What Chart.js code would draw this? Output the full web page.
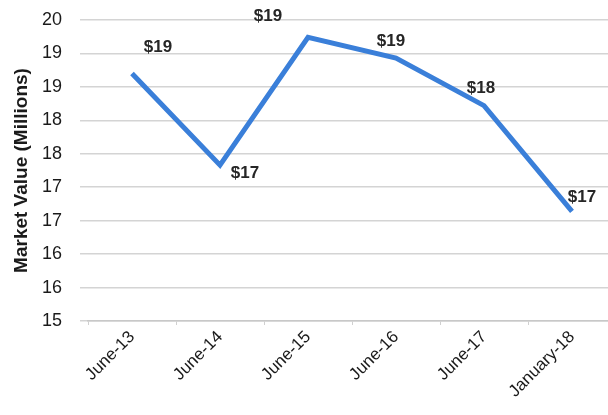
<!DOCTYPE html>
<html>
<head>
<meta charset="utf-8">
<script src="https://cdn.jsdelivr.net/npm/chart.js@4/dist/chart.umd.min.js"></script>
<style>
    html, body { margin: 0; padding: 0; background: #fff; overflow: hidden; }
    #wrap { position: relative; width: 616px; height: 415px; }
</style>
</head>
<body>
<div id="wrap"><canvas id="valueChart"></canvas></div>
<script>
// chart data
const categories = ["June-13", "June-14", "June-15", "June-16", "June-17", "January-18"];
const marketValues = [18.70, 17.33, 19.24, 18.93, 18.22, 16.64];
const yTickValues = [15, 15.5, 16, 16.5, 17, 17.5, 18, 18.5, 19, 19.5];
const yTickLabels = ["15", "16", "16", "17", "17", "18", "18", "19", "19", "20"];

// where each value label sits relative to its point (px)
const labelOffsets = [[26, -26], [25, 8], [-40, -21], [-5, -17], [-3, -17], [10, -14]];

const valueLabels = {
    id: "valueLabels",
    afterDatasetsDraw(chart) {
        const ctx = chart.ctx;
        const meta = chart.getDatasetMeta(0);
        ctx.save();
        ctx.font = "bold 17px 'Liberation Sans', Arial, sans-serif";
        ctx.fillStyle = "#262626";
        ctx.textAlign = "center";
        ctx.textBaseline = "middle";
        meta.data.forEach((pt, i) => {
            const v = chart.data.datasets[0].data[i];
            const off = labelOffsets[i];
            ctx.fillText("$" + Math.round(v), pt.x + off[0], pt.y + off[1]);
        });
        ctx.restore();
    }
};

document.addEventListener("DOMContentLoaded", function () {
    const ctx = document.getElementById("valueChart").getContext("2d");

    new Chart(ctx, {
        type: "line",
        data: {
            labels: categories,
            datasets: [{
                data: marketValues,
                borderColor: "#3a7fd9",
                borderWidth: 5,
                pointRadius: 0,
                tension: 0,
                fill: false
            }]
        },
        options: {
            responsive: true,
            maintainAspectRatio: false,
            animation: false,
            layout: { padding: { top: 20, right: 0, bottom: 0, left: 0 } },
            plugins: {
                legend: { display: false },
                tooltip: { enabled: false }
            },
            scales: {
                x: {
                    offset: true,
                    grid: {
                        offset: true,
                        drawOnChartArea: false,
                        tickLength: 4,
                        tickColor: "#d0d0d0"
                    },
                    border: { display: true, color: "#c8c8c8", width: 1.5 },
                    ticks: {
                        color: "#1a1a1a",
                        font: { family: "'Liberation Sans', Arial, sans-serif", size: 17 },
                        minRotation: 45,
                        maxRotation: 45,
                        padding: 2
                    },
                    afterFit: function (scale) {
                        scale.height = 94;
                        scale.paddingLeft = 0;
                        scale.paddingRight = 0;
                    }
                },
                y: {
                    min: 15,
                    max: 19.5,
                    afterBuildTicks: function (scale) {
                        scale.ticks = yTickValues.map(v => ({ value: v }));
                    },
                    grid: {
                        color: "#d4d4d4",
                        lineWidth: 1.5,
                        tickLength: 8,
                        tickColor: "#d4d4d4"
                    },
                    border: { display: false },
                    ticks: {
                        color: "#1a1a1a",
                        font: { family: "'Liberation Sans', Arial, sans-serif", size: 18 },
                        padding: 18,
                        callback: function (value, index) {
                            return yTickLabels[index];
                        }
                    },
                    title: {
                        display: true,
                        text: "Market Value (Millions)",
                        color: "#1a1a1a",
                        font: { family: "'Liberation Sans', Arial, sans-serif", size: 19, weight: "bold" },
                        padding: { top: 10, bottom: 0 }
                    },
                    afterFit: function (scale) {
                        scale.width = 88;
                        scale.paddingTop = 0;
                        scale.paddingBottom = 0;
                    }
                }
            }
        },
        plugins: [valueLabels]
    });
});
</script>
</body>
</html>
